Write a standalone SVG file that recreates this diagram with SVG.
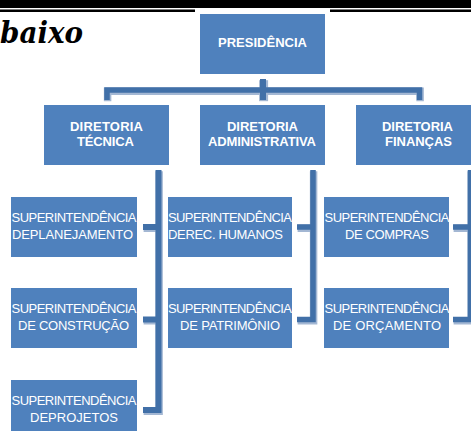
<svg xmlns="http://www.w3.org/2000/svg" width="471" height="431" viewBox="0 0 471 431">
  <style>
    .box { fill: #4F81BD; }
    .t1 { font-family: "Liberation Sans", Arial, sans-serif; font-size: 13px; font-weight: bold; fill: #FFFFFF; text-anchor: middle; }
    .t2 { font-family: "Liberation Sans", Arial, sans-serif; font-size: 13px; fill: #FFFFFF; text-anchor: middle; }
    .cx-light { fill: none; stroke: #A3B7D3; stroke-width: 7.5; stroke-linejoin: miter; }
    .cx-dark { fill: none; stroke: #4170A8; stroke-width: 5.5; stroke-linejoin: miter; }
  </style>

  <!-- page rules above the chart -->
  <rect x="0" y="0" width="471" height="8" fill="#000000"/>
  <rect x="0" y="9.5" width="195" height="2.5" fill="#000000"/>
  <rect x="330" y="9.5" width="141" height="2.5" fill="#000000"/>
  <text x="0" y="43" font-family="DejaVu Serif, serif" font-size="29" font-weight="bold" font-style="italic" fill="#000000" textLength="83" lengthAdjust="spacingAndGlyphs">baixo</text>

  <!-- connectors -->
  <g id="connectors">
    <g transform="translate(0.6,1.2)">
      <path class="cx-light" d="M107,100 V90 H419.5 V100"/>
      <path class="cx-light" d="M263,79 V100" style="stroke-width:9"/>
      <path class="cx-light" d="M143,410 H158.5 V170 M143,227 H158.5 M143,319.5 H158.5"/>
      <path class="cx-light" d="M297,319.5 H313 V170 M297,227 H313"/>
      <path class="cx-light" d="M453,319.5 H470.5 V170 M453,227 H470.5"/>
    </g>
    <path class="cx-dark" d="M107,100 V90 H419.5 V100"/>
    <path class="cx-dark" d="M263,79 V100" style="stroke-width:6"/>
    <path class="cx-dark" d="M143,410 H158.5 V170 M143,227 H158.5 M143,319.5 H158.5" style="stroke-width:6"/>
    <path class="cx-dark" d="M297,319.5 H313 V170 M297,227 H313"/>
    <path class="cx-dark" d="M453,319.5 H470.5 V170 M453,227 H470.5"/>
  </g>

  <!-- top level -->
  <g id="presidencia">
    <rect class="box" x="200" y="14" width="125" height="60"/>
    <text class="t1" x="262.5" y="47" textLength="89">PRESIDÊNCIA</text>
  </g>

  <!-- directorates -->
  <g id="dir-tecnica">
    <rect class="box" x="44" y="105" width="125" height="60"/>
    <text class="t1" x="106.5" y="131" textLength="73">DIRETORIA</text>
    <text class="t1" x="105.5" y="146" textLength="57">TÉCNICA</text>
  </g>
  <g id="dir-administrativa">
    <rect class="box" x="200" y="105" width="125" height="60"/>
    <text class="t1" x="262.5" y="131" textLength="71">DIRETORIA</text>
    <text class="t1" x="262" y="146" textLength="108">ADMINISTRATIVA</text>
  </g>
  <g id="dir-financas">
    <rect class="box" x="356" y="105" width="125" height="60"/>
    <text class="t1" x="417.5" y="131" textLength="71">DIRETORIA</text>
    <text class="t1" x="418.5" y="146" textLength="67">FINANÇAS</text>
  </g>

  <!-- superintendencies, column 1 -->
  <g id="sup-planejamento">
    <rect class="box" x="11" y="197" width="126" height="60"/>
    <text class="t2" x="74" y="222" textLength="125">SUPERINTENDÊNCIA</text>
    <text class="t2" x="72.5" y="238.5" textLength="121">DEPLANEJAMENTO</text>
  </g>
  <g id="sup-construcao">
    <rect class="box" x="11" y="288" width="126" height="60"/>
    <text class="t2" x="74" y="313" textLength="125">SUPERINTENDÊNCIA</text>
    <text class="t2" x="73.5" y="330" textLength="111">DE CONSTRUÇÃO</text>
  </g>
  <g id="sup-projetos">
    <rect class="box" x="11" y="380" width="126" height="60"/>
    <text class="t2" x="74" y="405" textLength="125">SUPERINTENDÊNCIA</text>
    <text class="t2" x="74" y="422" textLength="88">DEPROJETOS</text>
  </g>

  <!-- superintendencies, column 2 -->
  <g id="sup-rh">
    <rect class="box" x="168" y="197" width="124" height="60"/>
    <text class="t2" x="230" y="222" textLength="124">SUPERINTENDÊNCIA</text>
    <text class="t2" x="225.5" y="238.5" textLength="115">DEREC. HUMANOS</text>
  </g>
  <g id="sup-patrimonio">
    <rect class="box" x="168" y="288" width="124" height="60"/>
    <text class="t2" x="230" y="313" textLength="124">SUPERINTENDÊNCIA</text>
    <text class="t2" x="230" y="330" textLength="100">DE PATRIMÔNIO</text>
  </g>

  <!-- superintendencies, column 3 -->
  <g id="sup-compras">
    <rect class="box" x="324" y="197" width="125" height="60"/>
    <text class="t2" x="387" y="222" textLength="125">SUPERINTENDÊNCIA</text>
    <text class="t2" x="387" y="238.5" textLength="84">DE COMPRAS</text>
  </g>
  <g id="sup-orcamento">
    <rect class="box" x="324" y="288" width="125" height="60"/>
    <text class="t2" x="387" y="313" textLength="125">SUPERINTENDÊNCIA</text>
    <text class="t2" x="387" y="330" textLength="108">DE ORÇAMENTO</text>
  </g>
</svg>
